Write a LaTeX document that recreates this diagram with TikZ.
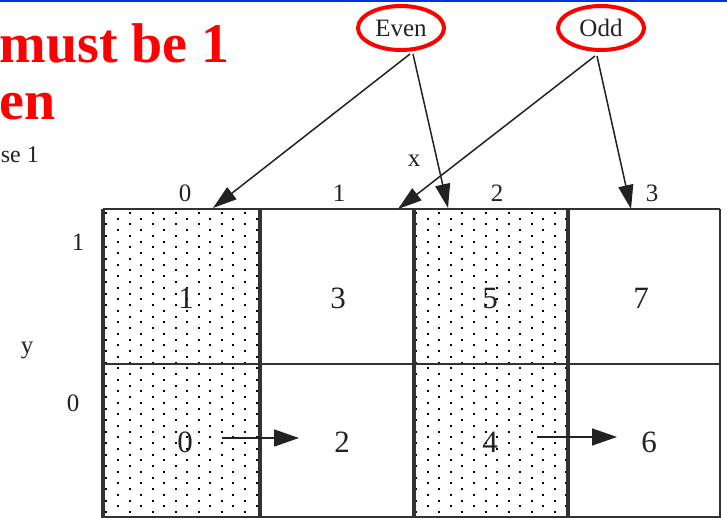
\documentclass[tikz,border=0pt]{standalone}
\usepackage{fontspec}
\setmainfont{Liberation Serif}
\usetikzlibrary{arrows.meta,shapes.geometric}
\definecolor{slideblue}{RGB}{0,51,221}
\definecolor{ink}{RGB}{34,34,34}
\definecolor{gridline}{RGB}{50,50,50}
\begin{document}
\begin{tikzpicture}[x=1pt,y=-1pt,
  lbl/.style={font=\fontsize{25}{27}\selectfont, text=ink, inner sep=0pt, anchor=base},
  cellnum/.style={font=\fontsize{31}{33}\selectfont, text=ink, inner sep=0pt, anchor=base},
  titletext/.style={font=\fontsize{56}{60}\selectfont\bfseries, text=red, inner sep=0pt, anchor=base east},
  subtext/.style={font=\fontsize{24}{26}\selectfont, text=ink, inner sep=0pt, anchor=base east},
  parity/.style={ellipse, draw=red, line width=4pt, minimum width=86pt, minimum height=44pt, inner sep=0pt, outer sep=0pt, font=\fontsize{25}{27}\selectfont, text=ink},
  pointer/.style={draw=ink, line width=1.5pt, -{Triangle[length=24pt,width=15pt]}},
  cellarrow/.style={draw=ink, line width=1.5pt, -{Triangle[length=25pt,width=17pt]}},
  heavyborder/.style={draw=gridline, line width=3.5pt},
  lightborder/.style={draw=gridline, line width=2pt},
  dotsq/.style={fill=black}]
\useasboundingbox (0,0) rectangle (727,518);
\fill[slideblue] (0,0) rectangle (727,2);

% title fragments
\node[titletext] (t1) at (230,63) {must be 1};
\node[titletext] (t2) at (56,120) {en};
\node[subtext] (t3) at (39,163) {se 1};

% dotted columns
\foreach \j in {0,...,52}{
  \foreach \i in {0,...,6}{
    \fill[dotsq] ({106.4+(2*\i+mod(\j,2))*11.55-1},{213+\j*5.75-1}) rectangle ++(2,2);
    \fill[dotsq] ({416.2+(2*\i+mod(\j,2))*11.55-1},{213+\j*5.75-1}) rectangle ++(2,2);
  }
}

% grid lines
\draw[lightborder] (103,209) -- (720,209);
\draw[lightborder] (103,364) -- (720,364);
\draw[lightborder] (103,517) -- (720,517);
\draw[lightborder] (720,209) -- (720,518);
\foreach \xx in {103,260,414,568}{
  \draw[heavyborder] (\xx,209) -- (\xx,518);
}

% axis labels
\node[lbl] (lx) at (414,167) {x};
\node[lbl] (ly) at (27,353) {y};
\node[lbl] (c0) at (185,202) {0};
\node[lbl] (c1) at (339,202) {1};
\node[lbl] (c2) at (497,202) {2};
\node[lbl] (c3) at (652,202) {3};
\node[lbl] (r1) at (78,251) {1};
\node[lbl] (r0) at (73,411) {0};

% cell numbers
\node[cellnum] (n1) at (186,308) {1};
\node[cellnum] (n3) at (338,308) {3};
\node[cellnum] (n5) at (490,308) {5};
\node[cellnum] (n7) at (641,308) {7};
\node[cellnum] (n0) at (185,452) {0};
\node[cellnum] (n2) at (342,452) {2};
\node[cellnum] (n4) at (490,452) {4};
\node[cellnum] (n6) at (649,452) {6};

% in-cell arrows
\coordinate (a0s) at (222,438);
\coordinate (a0e) at (299,438);
\coordinate (a4s) at (537,437);
\coordinate (a4e) at (617,437);
\draw[cellarrow] (a0s) -- (a0e);
\draw[cellarrow] (a4s) -- (a4e);

% parity ellipses
\node[parity] (even) at (401,28) {Even};
\node[parity] (odd) at (601,28) {Odd};

\coordinate (col0top) at (213,208);
\coordinate (col1top) at (398,209);
\coordinate (col2top) at (448,208);
\coordinate (col3top) at (631,209);

\draw[pointer] ([xshift=9pt,yshift=-4pt]even.south) -- (col0top);
\draw[pointer] ([xshift=12pt,yshift=-4pt]even.south) -- (col2top);
\draw[pointer] ([xshift=-6pt,yshift=-6pt]odd.south) -- (col1top);
\draw[pointer] ([xshift=-4pt,yshift=-6pt]odd.south) -- (col3top);
\end{tikzpicture}
\end{document}
